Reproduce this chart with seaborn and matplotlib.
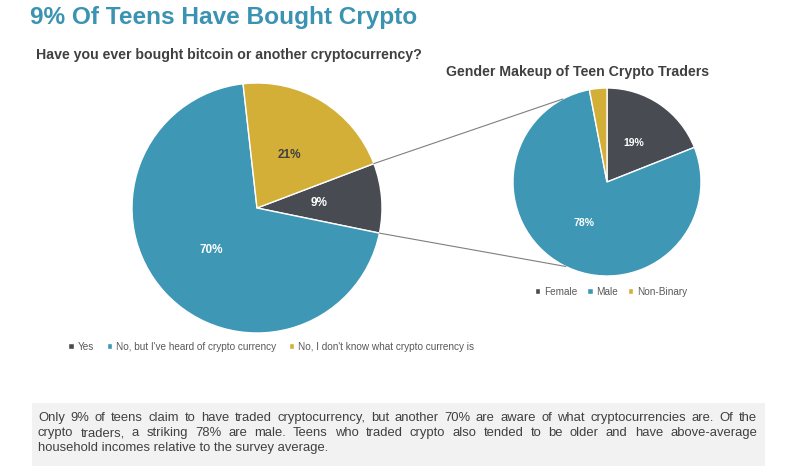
import matplotlib.pyplot as plt
from matplotlib.patches import Rectangle, ConnectionPatch
import numpy as np
import seaborn as sns

title = '9% Of Teens Have Bought Crypto'
question = 'Have you ever bought bitcoin or another cryptocurrency?'
crypto_labels = ['Yes', "No, but I've heard of crypto currency", "No, I don't know what crypto currency is"]
crypto_share = [9, 70, 21]
gender_title = 'Gender Makeup of Teen Crypto Traders'
gender_labels = ['Female', 'Male', 'Non-Binary']
gender_share = [19, 78, 3]
note_lines = [
    'Only 9% of teens claim to have traded cryptocurrency, but another 70% are aware of what cryptocurrencies are. Of the',
    'crypto traders, a striking 78% are male. Teens who traded crypto also tended to be older and have above-average',
    'household incomes relative to the survey average.',
]

dark, blue, gold = '#484B52', '#3E97B5', '#D3AF37'
text_grey = '#404040'

sns.set_theme(style='white')
plt.rcParams['font.family'] = ['Liberation Sans', 'DejaVu Sans']

W, H = 800, 469
fig = plt.figure(figsize=(W / 100, H / 100), dpi=100)


def px(x, y):
    # pixel position (from top-left) -> figure fraction
    return x / W, 1 - y / H


ax1 = fig.add_axes([132 / W, 1 - 333 / H, 250 / W, 250 / H])
ax2 = fig.add_axes([513 / W, 1 - 276 / H, 188 / W, 188 / H])

# big pie
w1, _, a1 = ax1.pie(crypto_share, colors=[dark, blue, gold], startangle=20.8,
                    counterclock=False, autopct='%.0f%%', pctdistance=0.5,
                    wedgeprops=dict(edgecolor='white', linewidth=1))
for t, c in zip(a1, ['white', 'white', text_grey]):
    t.set(color=c, fontsize=8.5, fontweight='bold')

# small pie
w2, _, a2 = ax2.pie(gender_share, colors=[dark, blue, gold], startangle=90,
                    counterclock=False, autopct=lambda p: f'{p:.0f}%' if p > 5 else '',
                    pctdistance=0.5, wedgeprops=dict(edgecolor='white', linewidth=1))
for t in a2:
    t.set(color='white', fontsize=7.5, fontweight='bold')

for ax in (ax1, ax2):
    ax.set_xlim(-1, 1)
    ax.set_ylim(-1, 1)
    ax.set_aspect('equal')
for w in list(w1) + list(w2):
    w.set_clip_on(False)

# connector lines from the "Yes" slice to the breakdown pie
yes = w1[0]
for th_a, th_b in [(yes.theta2, 118), (yes.theta1, 244)]:
    con = ConnectionPatch(xyA=(np.cos(np.radians(th_a)), np.sin(np.radians(th_a))), coordsA=ax1.transData,
                          xyB=(np.cos(np.radians(th_b)), np.sin(np.radians(th_b))), coordsB=ax2.transData,
                          color='#7F7F7F', lw=0.8)
    fig.add_artist(con)

# legends
leg_kw = dict(loc='center', bbox_transform=fig.transFigure, frameon=False, fontsize=7.2,
              handlelength=0.55, handleheight=0.55, handletextpad=0.35, labelcolor='#595959')
ax1.legend(w1, crypto_labels, bbox_to_anchor=px(271, 347), ncol=3, columnspacing=1.3, **leg_kw)
ax2.legend(w2, gender_labels, bbox_to_anchor=px(611, 292), ncol=3, columnspacing=1.0, **leg_kw)

# titles
fig.text(*px(30, 24), title, fontsize=17.6, fontweight='bold', color='#3B93B2', va='baseline')
fig.text(*px(228.5, 59), question, fontsize=10.2, fontweight='bold', color=text_grey,
         ha='center', va='baseline')
fig.text(*px(577.5, 76), gender_title, fontsize=10.2, fontweight='bold', color=text_grey,
         ha='center', va='baseline')

# note box with justified text
fig.add_artist(Rectangle(px(32, 466), (765 - 32) / W, 63 / H, transform=fig.transFigure,
                         facecolor='#F2F2F2', edgecolor='none', zorder=0))
renderer = fig.canvas.get_renderer()
x0, x1 = 38 / W, 757 / W
for i, line in enumerate(note_lines):
    y = px(0, 421 + 15 * i)[1]
    if i == len(note_lines) - 1:
        fig.text(x0, y, line, fontsize=9.4, color=text_grey, va='baseline')
        continue
    words = line.split()
    texts = [fig.text(0, y, w, fontsize=9.4, color=text_grey, va='baseline') for w in words]
    widths = [t.get_window_extent(renderer).width / W for t in texts]
    gap = (x1 - x0 - sum(widths)) / (len(words) - 1)
    x = x0
    for t, wd in zip(texts, widths):
        t.set_x(x)
        x += wd + gap

fig.savefig('out.png', dpi=100)
